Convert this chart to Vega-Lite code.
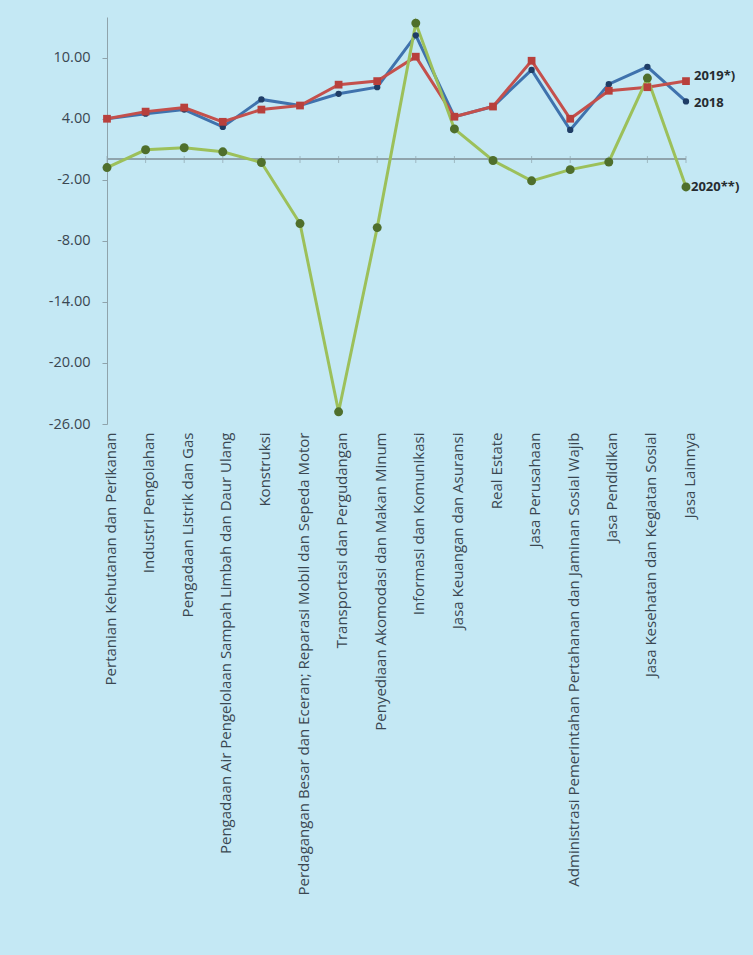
{
  "$schema": "https://vega.github.io/schema/vega-lite/v6.json",
  "width": 579,
  "height": 407,
  "autosize": {"type": "none"},
  "padding": {"left": 107, "right": 67, "top": 17, "bottom": 531},
  "background": "#c4e8f4",
  "config": {"view": {"stroke": null}, "font": "Open Sans"},
  "data": {"values": [
    {"sektor": "Pertanian Kehutanan dan Perikanan", "tahun": "2018", "laju": 4.0},
    {"sektor": "Pertanian Kehutanan dan Perikanan", "tahun": "2019*)", "laju": 4.0},
    {"sektor": "Pertanian Kehutanan dan Perikanan", "tahun": "2020**)", "laju": -0.8},
    {"sektor": "Industri Pengolahan", "tahun": "2018", "laju": 4.5},
    {"sektor": "Industri Pengolahan", "tahun": "2019*)", "laju": 4.7},
    {"sektor": "Industri Pengolahan", "tahun": "2020**)", "laju": 0.95},
    {"sektor": "Pengadaan Listrik dan Gas", "tahun": "2018", "laju": 4.9},
    {"sektor": "Pengadaan Listrik dan Gas", "tahun": "2019*)", "laju": 5.1},
    {"sektor": "Pengadaan Listrik dan Gas", "tahun": "2020**)", "laju": 1.15},
    {"sektor": "Pengadaan Air Pengelolaan Sampah Limbah dan Daur Ulang", "tahun": "2018", "laju": 3.2},
    {"sektor": "Pengadaan Air Pengelolaan Sampah Limbah dan Daur Ulang", "tahun": "2019*)", "laju": 3.7},
    {"sektor": "Pengadaan Air Pengelolaan Sampah Limbah dan Daur Ulang", "tahun": "2020**)", "laju": 0.75},
    {"sektor": "Konstruksi", "tahun": "2018", "laju": 5.9},
    {"sektor": "Konstruksi", "tahun": "2019*)", "laju": 4.9},
    {"sektor": "Konstruksi", "tahun": "2020**)", "laju": -0.3},
    {"sektor": "Perdagangan Besar dan Eceran; Reparasi Mobil dan Sepeda Motor", "tahun": "2018", "laju": 5.3},
    {"sektor": "Perdagangan Besar dan Eceran; Reparasi Mobil dan Sepeda Motor", "tahun": "2019*)", "laju": 5.3},
    {"sektor": "Perdagangan Besar dan Eceran; Reparasi Mobil dan Sepeda Motor", "tahun": "2020**)", "laju": -6.3},
    {"sektor": "Transportasi dan Pergudangan", "tahun": "2018", "laju": 6.45},
    {"sektor": "Transportasi dan Pergudangan", "tahun": "2019*)", "laju": 7.35},
    {"sektor": "Transportasi dan Pergudangan", "tahun": "2020**)", "laju": -24.8},
    {"sektor": "Penyediaan Akomodasi dan Makan Minum", "tahun": "2018", "laju": 7.1},
    {"sektor": "Penyediaan Akomodasi dan Makan Minum", "tahun": "2019*)", "laju": 7.7},
    {"sektor": "Penyediaan Akomodasi dan Makan Minum", "tahun": "2020**)", "laju": -6.7},
    {"sektor": "Informasi dan Komunikasi", "tahun": "2018", "laju": 12.2},
    {"sektor": "Informasi dan Komunikasi", "tahun": "2019*)", "laju": 10.1},
    {"sektor": "Informasi dan Komunikasi", "tahun": "2020**)", "laju": 13.4},
    {"sektor": "Jasa Keuangan dan Asuransi", "tahun": "2018", "laju": 4.2},
    {"sektor": "Jasa Keuangan dan Asuransi", "tahun": "2019*)", "laju": 4.2},
    {"sektor": "Jasa Keuangan dan Asuransi", "tahun": "2020**)", "laju": 3.0},
    {"sektor": "Real Estate", "tahun": "2018", "laju": 5.2},
    {"sektor": "Real Estate", "tahun": "2019*)", "laju": 5.2},
    {"sektor": "Real Estate", "tahun": "2020**)", "laju": -0.1},
    {"sektor": "Jasa Perusahaan", "tahun": "2018", "laju": 8.8},
    {"sektor": "Jasa Perusahaan", "tahun": "2019*)", "laju": 9.7},
    {"sektor": "Jasa Perusahaan", "tahun": "2020**)", "laju": -2.1},
    {"sektor": "Administrasi Pemerintahan Pertahanan dan Jaminan Sosial Wajib", "tahun": "2018", "laju": 2.9},
    {"sektor": "Administrasi Pemerintahan Pertahanan dan Jaminan Sosial Wajib", "tahun": "2019*)", "laju": 4.0},
    {"sektor": "Administrasi Pemerintahan Pertahanan dan Jaminan Sosial Wajib", "tahun": "2020**)", "laju": -1.0},
    {"sektor": "Jasa Pendidikan", "tahun": "2018", "laju": 7.4},
    {"sektor": "Jasa Pendidikan", "tahun": "2019*)", "laju": 6.75},
    {"sektor": "Jasa Pendidikan", "tahun": "2020**)", "laju": -0.25},
    {"sektor": "Jasa Kesehatan dan Kegiatan Sosial", "tahun": "2018", "laju": 9.1},
    {"sektor": "Jasa Kesehatan dan Kegiatan Sosial", "tahun": "2019*)", "laju": 7.1},
    {"sektor": "Jasa Kesehatan dan Kegiatan Sosial", "tahun": "2020**)", "laju": 8.0},
    {"sektor": "Jasa Lainnya", "tahun": "2018", "laju": 5.7},
    {"sektor": "Jasa Lainnya", "tahun": "2019*)", "laju": 7.7},
    {"sektor": "Jasa Lainnya", "tahun": "2020**)", "laju": -2.7}
  ]},
  "encoding": {
    "x": {
      "field": "sektor", "type": "nominal", "sort": null,
      "scale": {"type": "point", "padding": 0},
      "axis": {"orient": "bottom", "labelAngle": -90, "domain": false, "ticks": false, "labelPadding": 8, "labelOffset": 3, "labelFontSize": 15, "labelColor": "#3a4751", "labelLimit": 700, "labelOverlap": false, "title": null}
    },
    "y": {
      "field": "laju", "type": "quantitative",
      "scale": {"domain": [-26, 14], "nice": false, "zero": false},
      "axis": {"values": [-26, -20, -14, -8, -2, 4, 10], "labelExpr": "replace(format(datum.value, '.2f'), '\u2212', '-')", "grid": false, "domainColor": "#8fa3ab", "tickColor": "#8fa3ab", "tickSize": 5, "labelPadding": 12, "labelFontSize": 14.5, "labelColor": "#3a4751", "title": null}
    }
  },
  "layer": [
    {"mark": {"type": "rule", "color": "#8ea4ad", "strokeWidth": 1.3}, "encoding": {"y": {"datum": 0}, "x": null}},
    {"transform": [{"filter": "datum.tahun == '2018'"}], "mark": {"type": "tick", "orient": "vertical", "color": "#8ea4ad", "size": 7, "thickness": 1}, "encoding": {"y": {"datum": 0}}},
    {
      "mark": {"type": "line", "strokeWidth": 3},
      "encoding": {
        "stroke": {"field": "tahun", "type": "nominal", "scale": {"domain": ["2018", "2019*)", "2020**)"], "range": ["#3f72ad", "#c4504c", "#9cc05a"]}, "legend": null}
      }
    },
    {
      "mark": {"type": "point", "filled": true, "opacity": 1},
      "encoding": {
        "fill": {"field": "tahun", "type": "nominal", "scale": {"domain": ["2018", "2019*)", "2020**)"], "range": ["#1f3d66", "#b8403c", "#4f6f2c"]}, "legend": null},
        "shape": {"field": "tahun", "type": "nominal", "scale": {"domain": ["2018", "2019*)", "2020**)"], "range": ["circle", "square", "circle"]}, "legend": null},
        "size": {"field": "tahun", "type": "nominal", "scale": {"domain": ["2018", "2019*)", "2020**)"], "range": [40, 80, 25]}, "legend": null}
      }
    },
    {"transform": [{"filter": "datum.sektor == 'Jasa Lainnya' && datum.tahun == '2019*)'"}], "mark": {"type": "text", "align": "left", "dx": 8, "dy": -5, "fontSize": 13, "fontWeight": "bold", "color": "#262c30"}, "encoding": {"text": {"field": "tahun"}}},
    {"transform": [{"filter": "datum.sektor == 'Jasa Lainnya' && datum.tahun == '2018'"}], "mark": {"type": "text", "align": "left", "dx": 8, "dy": 2, "fontSize": 13, "fontWeight": "bold", "color": "#262c30"}, "encoding": {"text": {"field": "tahun"}}},
    {"transform": [{"filter": "datum.sektor == 'Jasa Lainnya' && datum.tahun == '2020**)'"}], "mark": {"type": "text", "align": "left", "dx": 5, "dy": 0, "fontSize": 13, "fontWeight": "bold", "color": "#262c30"}, "encoding": {"text": {"field": "tahun"}}}
  ]
}
